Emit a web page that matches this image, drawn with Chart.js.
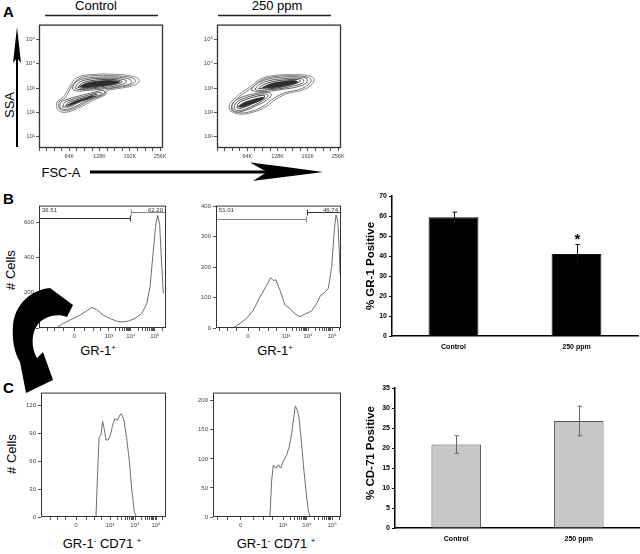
<!DOCTYPE html>
<html>
<head>
<meta charset="utf-8">
<script src="https://cdn.jsdelivr.net/npm/chart.js@4.4.0/dist/chart.umd.min.js"></script>
<style>
  body { margin: 0; width: 640px; height: 554px; position: relative; overflow: hidden; background: #fff;
         font-family: "Liberation Sans", Arial, sans-serif; color: #000; }
  #charts canvas { position: absolute; }
  .lbl { position: absolute; white-space: nowrap; line-height: 1; font-size: 13px; transform: translate(-50%, -50%); }
  .rot { transform: translate(-50%, -50%) rotate(-90deg); }
  .big { font-weight: bold; font-size: 15px; }
  .ytl { font-weight: bold; font-size: 11.5px; }
  sup { font-size: 60%; vertical-align: 0.55em; line-height: 0; }
  svg { position: absolute; left: 0; top: 0; }
</style>
</head>
<body>
<div id="charts"></div>

<div class="lbl big" style="left:8.5px;top:10.5px">A</div>
<div class="lbl" style="left:96px;top:5px">Control</div>
<div class="lbl" style="left:277px;top:5px">250 ppm</div>
<div class="lbl rot" style="left:9px;top:105px">SSA</div>
<div class="lbl" style="left:61px;top:172px">FSC-A</div>

<div class="lbl big" style="left:8.5px;top:198px">B</div>
<div class="lbl rot" style="left:10px;top:270px"># Cells</div>
<div class="lbl" style="left:98px;top:350px">GR-1<sup>+</sup></div>
<div class="lbl" style="left:275px;top:350px">GR-1<sup>+</sup></div>
<div class="lbl rot ytl" style="left:371px;top:266px">% GR-1 Positive</div>

<div class="lbl big" style="left:8.5px;top:387px">C</div>
<div class="lbl rot" style="left:11px;top:454px"># Cells</div>
<div class="lbl" style="left:102px;top:543px">GR-1<sup>-</sup> CD71 <sup>+</sup></div>
<div class="lbl" style="left:276px;top:543px">GR-1<sup>-</sup> CD71 <sup>+</sup></div>
<div class="lbl rot ytl" style="left:371px;top:453px">% CD-71 Positive</div>

<svg width="640" height="554">
  <line x1="45" y1="15.5" x2="158" y2="15.5" stroke="#222" stroke-width="1.5"/>
  <line x1="218" y1="15.5" x2="331" y2="15.5" stroke="#222" stroke-width="1.5"/>
  <line x1="17" y1="147" x2="17" y2="58" stroke="#000" stroke-width="2"/>
  <polygon points="17,27 21,63 17,58 13,63" fill="#000"/>
  <line x1="90" y1="172" x2="268" y2="172" stroke="#000" stroke-width="3.2"/>
  <path d="M250,162.5 Q288,167 323,172 Q288,176.5 253,181 L267,172 Z" fill="#000"/>
  <path d="M50,288 L73,305 L67,317 C58,313 45,316 38,324 C31,333 31,348 37,358 L43,352 L53,380 L26,393 L20,362 C14,352 12,340 13,325 C15,305 30,290 50,288 Z" fill="#000"/>
</svg>

<script>
const FONT = '"Liberation Sans", Arial, sans-serif';
Chart.defaults.font.family = FONT;

// ---- Panel A: contour rings, points are [FSC-A (K), log10 SSA] ----
const ctrlRings = [
  [[38,2.15],[38,2.42],[52,2.65],[60,2.9],[66,3.1],[80,3.42],[110,3.55],[160,3.56],[200,3.47],[212,3.3],[200,3.1],[165,2.97],[145,2.88],[140,2.72],[115,2.5],[88,2.22],[62,2.02],[46,2.02]],
  [[42,2.17],[42,2.42],[56,2.62],[64,2.9],[70,3.1],[84,3.38],[112,3.5],[160,3.5],[196,3.42],[204,3.28],[192,3.12],[160,3.0],[142,2.92],[136,2.76],[112,2.55],[86,2.27],[62,2.08],[48,2.08]],
  [[44,2.18],[46,2.4],[62,2.55],[90,2.7],[115,2.82],[135,2.9],[140,2.78],[120,2.6],[95,2.42],[72,2.2],[55,2.12]],
  [[50,2.22],[54,2.4],[70,2.53],[95,2.66],[118,2.78],[132,2.82],[128,2.72],[108,2.58],[85,2.42],[66,2.24]],
  [[56,2.26],[62,2.4],[80,2.52],[102,2.64],[122,2.74],[118,2.66],[96,2.52],[76,2.38],[64,2.27]],
  [[70,2.98],[78,3.25],[100,3.4],[135,3.45],[170,3.44],[192,3.35],[195,3.2],[170,3.06],[135,2.96],[100,2.9],[80,2.88]],
  [[76,3.0],[84,3.22],[104,3.35],[135,3.4],[168,3.38],[185,3.3],[182,3.2],[160,3.08],[130,3.0],[100,2.95],[84,2.94]],
  [[82,3.03],[92,3.2],[110,3.3],[140,3.35],[165,3.33],[176,3.26],[165,3.17],[140,3.08],[110,3.0],[90,2.99]]
];
const ctrlCores = [
  [[60,2.3],[72,2.42],[95,2.56],[115,2.68],[108,2.58],[85,2.44],[68,2.32]],
  [[86,3.06],[100,3.2],[125,3.28],[155,3.3],[170,3.25],[150,3.14],[120,3.06],[96,3.02]]
];
const ctrlStreaks = [
  [[66,2.36],[90,2.5],[106,2.6]],
  [[100,3.13],[130,3.19],[156,3.23]]
];

const ppmRings = [
  [[28,2.05],[26,2.3],[40,2.62],[55,2.85],[72,3.08],[90,3.35],[115,3.5],[160,3.55],[195,3.5],[205,3.35],[198,3.1],[178,2.9],[150,2.78],[125,2.55],[105,2.25],[75,2.0],[45,1.93]],
  [[34,2.07],[32,2.3],[45,2.6],[60,2.82],[76,3.05],[94,3.32],[118,3.46],[160,3.5],[190,3.45],[199,3.33],[192,3.12],[172,2.93],[146,2.82],[120,2.58],[100,2.28],[72,2.04],[48,1.98]],
  [[30,2.12],[34,2.4],[50,2.6],[75,2.75],[100,2.82],[115,2.75],[105,2.5],[80,2.25],[55,2.05],[38,2.02]],
  [[36,2.15],[40,2.38],[55,2.56],[78,2.7],[100,2.76],[108,2.68],[96,2.48],[76,2.27],[55,2.1],[42,2.08]],
  [[42,2.2],[46,2.38],[60,2.52],[80,2.64],[100,2.7],[98,2.58],[82,2.42],[64,2.26],[48,2.16]],
  [[72,2.92],[82,3.15],[105,3.35],[140,3.45],[175,3.45],[190,3.38],[188,3.2],[170,3.05],[140,2.95],[105,2.86],[82,2.85]],
  [[80,2.95],[90,3.15],[110,3.3],[140,3.38],[172,3.4],[183,3.33],[180,3.2],[160,3.08],[135,2.98],[105,2.92],[88,2.9]],
  [[88,2.98],[100,3.15],[120,3.27],[145,3.33],[170,3.35],[176,3.28],[165,3.18],[140,3.05],[112,2.97]]
];
const ppmCores = [
  [[45,2.24],[55,2.38],[72,2.5],[92,2.6],[100,2.6],[88,2.46],[68,2.32],[52,2.22]],
  [[96,3.02],[115,3.18],[140,3.27],[165,3.3],[170,3.24],[150,3.12],[120,3.02]]
];
const ppmStreaks = [
  [[55,2.31],[75,2.43],[92,2.54]],
  [[110,3.1],[138,3.2],[162,3.26]]
];
const ringColors = ['#7a7a7a', '#6a6a6a', '#555', '#444', '#2a2a2a', '#555', '#444', '#2a2a2a'];
const fscTicks = [0, 16, 32, 48, 64, 80, 96, 112, 128, 144, 160, 176, 192, 208, 224, 240, 256];
const ssaTicks = [1, 2, 3, 4, 5];
const ssaLabels = ['10¹', '10²', '10³', '10⁴', '10⁵'];

// ---- Panels B, C: histograms, x = fraction of display axis, y = # cells ----
const flowTickLabels = ['0', '10³', '10⁴', '10⁵'];

const gr1CtrlX = [0.139,0.191,0.244,0.323,0.375,0.415,0.454,0.506,0.559,0.612,0.651,0.703,0.756,0.809,0.848,0.874,0.900,0.919,0.935,0.950,0.963,0.979];
const gr1CtrlY = [0,26,45,73,97,116,105,73,54,39,34,39,54,82,138,232,437,587,639,587,400,195];
const gr1CtrlTicks = [0.276, 0.551, 0.724, 0.913];
const gr1CtrlYTicks = [0, 200, 400, 600];
const gr1CtrlGates = { from: [0, 0.724], to: [0.724, 1], level: [622, 656], labels: ['36.51', '62.20'], colors: ['#333', '#888'] };

const gr1PpmX = [0.139,0.192,0.245,0.299,0.352,0.405,0.437,0.459,0.48,0.512,0.552,0.592,0.632,0.672,0.712,0.765,0.805,0.832,0.872,0.898,0.925,0.946,0.96,0.974,0.986,0.992];
const gr1PpmY = [0,15,32,59,102,140,165,156,158,124,75,64,46,37,46,56,80,104,118,129,199,319,371,351,254,178];
const gr1PpmTicks = [0.256, 0.56, 0.736, 0.928];
const gr1PpmYTicks = [0, 100, 200, 300, 400];
const gr1PpmGates = { from: [0, 0.728], to: [0.728, 1], level: [358, 380], labels: ['51.01', '46.74'], colors: ['#888', '#333'] };

const cd71CtrlX = [0.44,0.453,0.464,0.48,0.493,0.507,0.52,0.539,0.557,0.573,0.592,0.611,0.632,0.645,0.664,0.685,0.707,0.725,0.747,0.765];
const cd71CtrlY = [0,49,85,89,103,94,83,83,89,99,106,104,110,111,104,85,60,31,5,0];
const cd71CtrlTicks = [0.28, 0.552, 0.752, 0.92];
const cd71CtrlYTicks = [0, 30, 60, 90, 120];

const cd71PpmX = [0.445,0.458,0.471,0.492,0.51,0.529,0.549,0.576,0.596,0.615,0.633,0.643,0.659,0.672,0.688,0.706,0.727,0.745,0.758];
const cd71PpmY = [0,62,89,84,90,84,96,107,121,144,175,191,184,170,136,90,44,10,0];
const cd71PpmTicks = [0.216, 0.547, 0.734, 0.93];
const cd71PpmYTicks = [0, 50, 100, 150, 200];

// ---- Bar charts ----
const groups = ['Control', '250 ppm'];
const gr1Pos = [59.5, 41.0];
const gr1Err = [2.5, 4.8];
const cd71Pos = [20.9, 26.8];
const cd71Err = [2.2, 3.7];
const sigMarks = ['', '*'];

// frame round the plot area
const framePlugin = {
  id: 'frame',
  afterDraw(chart, args, opts) {
    const { ctx, chartArea: a } = chart;
    ctx.save();
    ctx.strokeStyle = opts.color || '#333';
    ctx.lineWidth = opts.width || 1;
    ctx.strokeRect(a.left + 0.5, a.top + 0.5, a.right - a.left - 1, a.bottom - a.top - 1);
    ctx.restore();
  }
};

// gate brackets for GR-1 histograms
const gatePlugin = {
  id: 'gates',
  afterDatasetsDraw(chart, args, opts) {
    if (!opts.from) return;
    const { ctx, chartArea: a, scales: { x, y } } = chart;
    ctx.save();
    ctx.lineWidth = 1;
    ctx.font = '6px ' + FONT;
    ctx.textBaseline = 'middle';
    opts.from.forEach((f, i) => {
      const x1 = x.getPixelForValue(f), x2 = x.getPixelForValue(opts.to[i]);
      const yy = Math.round(y.getPixelForValue(opts.level[i])) + 0.5;
      ctx.strokeStyle = opts.colors[i];
      ctx.beginPath();
      ctx.moveTo(x1, yy); ctx.lineTo(x2, yy);
      ctx.moveTo(x1 + 0.5, yy - 3); ctx.lineTo(x1 + 0.5, yy + 3);
      ctx.moveTo(x2 - 0.5, yy - 3); ctx.lineTo(x2 - 0.5, yy + 3);
      ctx.stroke();
      ctx.fillStyle = '#333';
      ctx.textAlign = i === 0 ? 'left' : 'right';
      ctx.fillText(opts.labels[i], i === 0 ? a.left + 3 : a.right - 3, a.top + 5);
    });
    ctx.restore();
  }
};

// error bars + significance mark
const errorPlugin = {
  id: 'errs',
  afterDatasetsDraw(chart, args, opts) {
    const { ctx, scales: { y } } = chart;
    const vals = chart.data.datasets[0].data;
    ctx.save();
    ctx.strokeStyle = opts.color;
    ctx.lineWidth = 1;
    chart.getDatasetMeta(0).data.forEach((bar, i) => {
      const x = Math.round(bar.x) + 0.5;
      const yt = y.getPixelForValue(vals[i] + opts.err[i]);
      const yb = y.getPixelForValue(vals[i] - opts.err[i]);
      ctx.beginPath();
      ctx.moveTo(x, yb); ctx.lineTo(x, yt);
      ctx.moveTo(x - 2, yt); ctx.lineTo(x + 2.5, yt);
      ctx.moveTo(x - 2, yb); ctx.lineTo(x + 2.5, yb);
      ctx.stroke();
      if (opts.marks && opts.marks[i]) {
        ctx.fillStyle = '#000';
        ctx.font = 'bold 15px ' + FONT;
        ctx.textAlign = 'center';
        ctx.textBaseline = 'middle';
        ctx.fillText(opts.marks[i], x, yt - 5);
      }
    });
    ctx.restore();
  }
};

function place(box, m) {
  const c = document.createElement('canvas');
  const w = box.r - box.l + m.l + m.r, h = box.b - box.t + m.t + m.b;
  c.width = w; c.height = h;
  c.style.left = (box.l - m.l) + 'px';
  c.style.top = (box.t - m.t) + 'px';
  c.style.width = w + 'px';
  c.style.height = h + 'px';
  document.getElementById('charts').appendChild(c);
  return c;
}

function baseOptions(m) {
  return {
    responsive: false, animation: false, events: [],
    layout: { padding: { left: 0, top: m.t, right: m.r, bottom: 0 } },
    plugins: { legend: { display: false }, tooltip: { enabled: false } }
  };
}

function flowMinor(t) {
  const [p0, p3, p4, p5] = t;
  const out = [];
  [[p3, p4], [p4, p5]].forEach(([a, b]) => {
    for (let k = 2; k < 10; k++) out.push(a + (b - a) * Math.log10(k));
  });
  for (let k = 2; k < 10; k++) {
    const v = p5 + (p5 - p4) * Math.log10(k);
    if (v < 1) out.push(v);
  }
  [0.3, 0.55, 0.75].forEach(f => {
    out.push(p0 + (p3 - p0) * f);
    const n = p0 - (p3 - p0) * f;
    if (n > 0) out.push(n);
  });
  return out;
}

function contourPlot(box, rings, cores, streaks) {
  const m = { l: 20, t: 3, r: 8, b: 13 };
  const cv = place(box, m);
  const datasets = [];
  rings.forEach((r, i) => datasets.push({
    data: r.concat([r[0]]).map(p => ({ x: p[0], y: p[1] })),
    showLine: true, pointRadius: 0, borderWidth: 0.9, borderColor: ringColors[i], tension: 0.4, fill: false
  }));
  cores.forEach(r => datasets.push({
    data: r.concat([r[0]]).map(p => ({ x: p[0], y: p[1] })),
    showLine: true, pointRadius: 0, borderWidth: 0.8, borderColor: '#222', backgroundColor: '#2e2e2e', tension: 0.4, fill: 'shape'
  }));
  streaks.forEach(r => datasets.push({
    data: r.map(p => ({ x: p[0], y: p[1] })),
    showLine: true, pointRadius: 0, borderWidth: 1.3, borderColor: '#f2f2f2', tension: 0.4, fill: false
  }));
  const opts = baseOptions(m);
  opts.plugins.frame = { color: '#333', width: 1.3 };
  opts.scales = {
    x: {
      type: 'linear', min: 0, max: 262,
      afterBuildTicks: s => { s.ticks = fscTicks.map(v => ({ value: v })); },
      afterFit: s => { s.height = m.b; },
      ticks: { autoSkip: false, maxRotation: 0, padding: 2, color: '#444', font: { size: 5.5 },
               callback: v => (v > 0 && v % 64 === 0) ? v + 'K' : '' },
      grid: { drawOnChartArea: false, tickLength: 3, color: '#555' },
      border: { display: false }
    },
    y: {
      type: 'linear', min: 0.54, max: 5.6,
      afterBuildTicks: s => { s.ticks = ssaTicks.map(v => ({ value: v })); },
      afterFit: s => { s.width = m.l; },
      ticks: { padding: 1, color: '#444', font: { size: 6 }, callback: (v, i) => ssaLabels[i] },
      grid: { drawOnChartArea: false, tickLength: 3, color: '#555' },
      border: { display: false }
    }
  };
  new Chart(cv, { type: 'scatter', data: { datasets }, options: opts, plugins: [framePlugin] });
}

function flowHist(box, xs, ys, ticks, yTicks, yMax, gates) {
  const m = { l: 20, t: 4, r: 4, b: 14 };
  const cv = place(box, m);
  const allTicks = ticks.concat(flowMinor(ticks));
  const opts = baseOptions(m);
  opts.plugins.frame = { color: '#333', width: 1 };
  opts.plugins.gates = gates || {};
  opts.scales = {
    x: {
      type: 'linear', min: 0, max: 1,
      afterBuildTicks: s => { s.ticks = allTicks.map(v => ({ value: v })); },
      afterFit: s => { s.height = m.b; },
      ticks: { autoSkip: false, maxRotation: 0, padding: 2, color: '#444', font: { size: 6 },
               callback: (v, i) => i < flowTickLabels.length ? flowTickLabels[i] : '' },
      grid: { drawOnChartArea: false, tickLength: 3, color: '#555' },
      border: { display: false }
    },
    y: {
      type: 'linear', min: 0, max: yMax,
      afterBuildTicks: s => { s.ticks = yTicks.map(v => ({ value: v })); },
      afterFit: s => { s.width = m.l; },
      ticks: { padding: 2, color: '#444', font: { size: 6 } },
      grid: { drawOnChartArea: false, tickLength: 3, color: '#555' },
      border: { display: false }
    }
  };
  new Chart(cv, {
    type: 'scatter',
    data: { datasets: [{ data: xs.map((x, i) => ({ x, y: ys[i] })), showLine: true, pointRadius: 0,
                         borderColor: '#6e6e6e', borderWidth: 1, tension: 0 }] },
    options: opts,
    plugins: [framePlugin, gatePlugin]
  });
}

function barChart(box, vals, errs, yMax, step, fill, edge, errColor, marks) {
  const m = { l: 20, t: 6, r: 640 - box.r, b: 18 };
  const cv = place(box, m);
  const opts = baseOptions(m);
  opts.plugins.errs = { err: errs, color: errColor, marks };
  opts.scales = {
    x: {
      afterFit: s => { s.height = m.b; },
      ticks: { padding: 7, color: '#000', font: { size: 7, weight: 'bold' } },
      grid: { display: false, drawTicks: false },
      border: { display: true, color: '#000', width: 1.5 }
    },
    y: {
      min: 0, max: yMax,
      afterFit: s => { s.width = m.l; },
      ticks: { stepSize: step, padding: 2, color: '#000', font: { size: 7, weight: 'bold' } },
      grid: { drawOnChartArea: false, tickLength: 3, color: '#000' },
      border: { display: true, color: '#000', width: 1.5 }
    }
  };
  new Chart(cv, {
    type: 'bar',
    data: { labels: groups, datasets: [{ data: vals, backgroundColor: fill, borderColor: edge, borderWidth: 1,
                                         barPercentage: 0.405, categoryPercentage: 1 }] },
    options: opts,
    plugins: [errorPlugin]
  });
}

contourPlot({ l: 39, r: 163, t: 23, b: 148 }, ctrlRings, ctrlCores, ctrlStreaks);
contourPlot({ l: 217, r: 341, t: 23, b: 148 }, ppmRings, ppmCores, ppmStreaks);

flowHist({ l: 39, r: 166, t: 204, b: 328 }, gr1CtrlX, gr1CtrlY, gr1CtrlTicks, gr1CtrlYTicks, 695, gr1CtrlGates);
flowHist({ l: 216, r: 341, t: 204, b: 328 }, gr1PpmX, gr1PpmY, gr1PpmTicks, gr1PpmYTicks, 402, gr1PpmGates);
flowHist({ l: 41, r: 166, t: 391, b: 517 }, cd71CtrlX, cd71CtrlY, cd71CtrlTicks, cd71CtrlYTicks, 134, null);
flowHist({ l: 213, r: 341, t: 391, b: 517 }, cd71PpmX, cd71PpmY, cd71PpmTicks, cd71PpmYTicks, 214, null);

barChart({ l: 392, r: 638, t: 196, b: 336 }, gr1Pos, gr1Err, 70, 10, '#000', '#111', '#111', sigMarks);
barChart({ l: 395, r: 640, t: 388, b: 528 }, cd71Pos, cd71Err, 35, 5, '#c8c8c8', '#555', '#666', null);
</script>
</body>
</html>
